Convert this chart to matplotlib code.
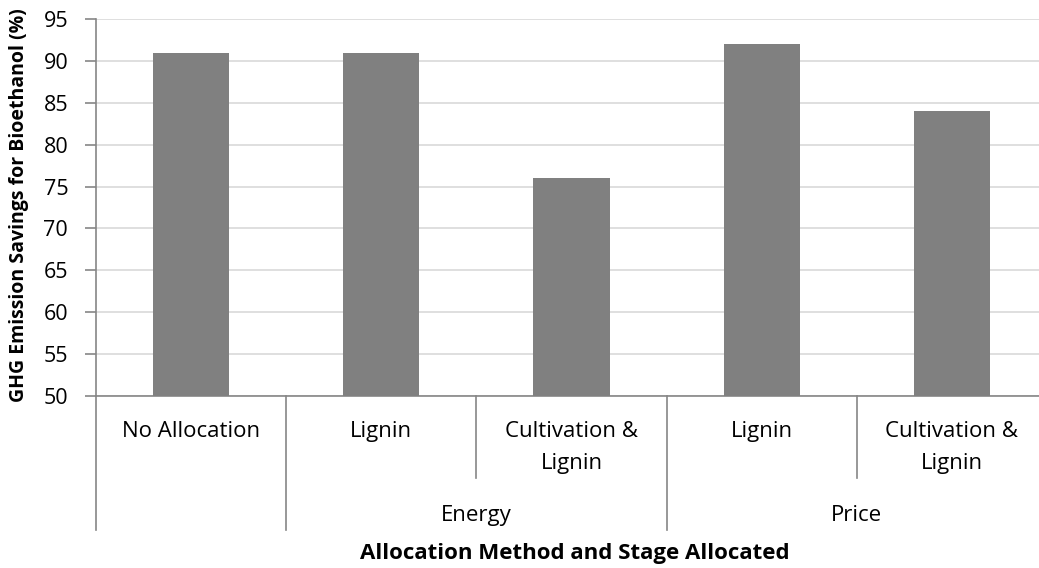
import matplotlib
matplotlib.use('Agg')
import matplotlib.pyplot as plt
import matplotlib.transforms as mtransforms

# data
stages = ['No Allocation', 'Lignin', 'Cultivation &\nLignin', 'Lignin', 'Cultivation &\nLignin']
methods = ['', 'Energy', 'Price']
method_spans = [1, 2, 2]
savings = [91, 91, 76, 92, 84]
yticks = [50, 55, 60, 65, 70, 75, 80, 85, 90, 95]

plt.rcParams['font.family'] = ['Open Sans', 'DejaVu Sans']

W, H = 1039, 568
fig = plt.figure(figsize=(W / 100, H / 100), dpi=100)
# plot area runs past the right edge, as in the cropped original
ax = fig.add_axes([96 / W, (H - 396) / H, 951 / W, 377 / H])

n = len(stages)
x = list(range(n))
ax.bar(x, savings, width=0.4, color='#808080', zorder=3)

ax.set_xlim(-0.5, n - 0.5)
ax.set_ylim(50, 95)
ax.set_yticks(yticks)
ax.yaxis.grid(True, color='#d9d9d9', linewidth=1.2, zorder=0)
ax.tick_params(axis='y', length=8, width=1.2, color='#868686', labelsize=15.5, pad=12)
ax.set_xticks([])

for side in ['top', 'right']:
    ax.spines[side].set_visible(False)
for side in ['left', 'bottom']:
    ax.spines[side].set_color('#868686')
    ax.spines[side].set_linewidth(1.2)

# multi-level category axis, offsets in pixels below the axis
trans = mtransforms.blended_transform_factory(ax.transData, mtransforms.IdentityTransform())
y0 = H - 396

def px(d):
    return y0 - d

line_kw = dict(color='#868686', linewidth=1.2, clip_on=False, transform=trans)

for i, label in enumerate(stages):
    for k, line in enumerate(label.split('\n')):
        ax.text(i, px(41 + 32 * k), line, ha='center', va='baseline', fontsize=16,
                transform=trans)

# inner separators (within a group) are shorter
edges = [-0.5]
for span in method_spans:
    edges.append(edges[-1] + span)
for b in range(n + 1):
    xb = b - 0.5
    full = xb in edges
    ax.plot([xb, xb], [px(0), px(134 if full else 82)], **line_kw)

for j, m in enumerate(methods):
    mid = (edges[j] + edges[j + 1]) / 2
    ax.text(mid, px(125), m, ha='center', va='baseline', fontsize=16, transform=trans)

fig.text(575 / W, 1 - 553 / H, 'Allocation Method and Stage Allocated',
         ha='center', va='center', fontsize=16, fontweight='bold')
fig.text(19 / W, 1 - 205 / H, 'GHG Emission Savings for Bioethanol (%)',
         ha='center', va='center', rotation=90, fontsize=14, fontweight='bold')

plt.savefig('out.png', dpi=100)
